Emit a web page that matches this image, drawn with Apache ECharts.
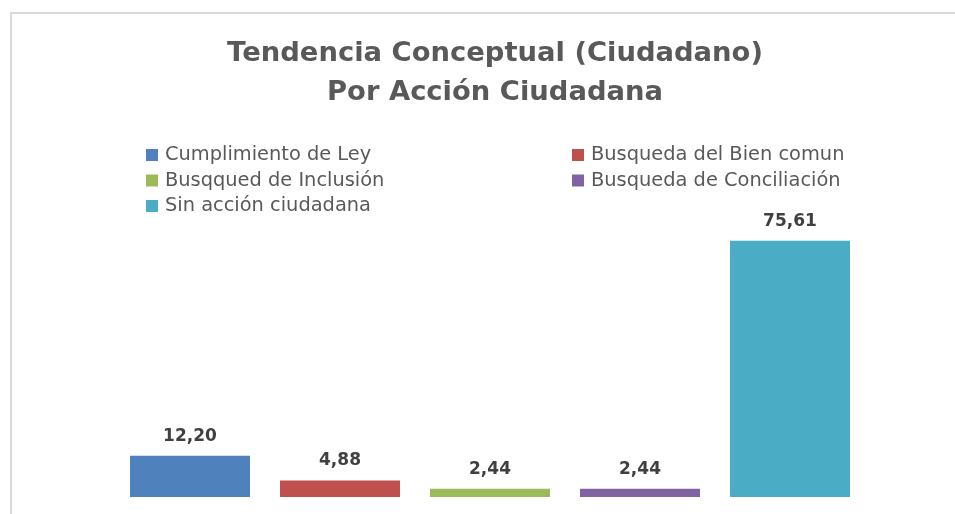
<!DOCTYPE html>
<html>
<head>
<meta charset="utf-8">
<script src="https://cdn.jsdelivr.net/npm/echarts@6/dist/echarts.min.js"></script>
<style>html,body{margin:0;padding:0;background:#fff;}#c{width:955px;height:514px;}</style>
</head>
<body>
<div id="c"></div>
<script>
const categories = ['Cumplimiento de Ley', 'Busqueda del Bien comun', 'Busqqued de Inclusión', 'Busqueda de Conciliación', 'Sin acción ciudadana'];
const values = [12.20, 4.88, 2.44, 2.44, 75.61];
const colors = ['#4F81BD', '#C0504D', '#9BBB59', '#8064A2', '#4BACC6'];
const leftLegend = ['Cumplimiento de Ley', 'Busqqued de Inclusión', 'Sin acción ciudadana'];
const rightLegend = ['Busqueda del Bien comun', 'Busqueda de Conciliación'];

const FONT = 'DejaVu Sans';
const chart = echarts.init(document.getElementById('c'));
const series = categories.map((name, i) => ({
  name: name,
  type: 'bar',
  barWidth: 120,
  barGap: '-100%',
  itemStyle: { color: colors[i] },
  data: categories.map((c, j) => j === i ? values[i] : null),
  label: {
    show: true,
    position: 'top',
    distance: 11,
    fontFamily: FONT,
    fontWeight: 'bold',
    fontSize: 17,
    color: '#404040',
    formatter: p => p.value.toFixed(2).replace('.', ',')
  }
}));

const legendCommon = {
  orient: 'vertical',
  top: 140,
  itemWidth: 12,
  itemHeight: 12,
  itemGap: 5.5,
  icon: 'rect',
  textStyle: { fontFamily: FONT, fontSize: 19.4, lineHeight: 20, color: '#595959', padding: [0, 0, 0, 2] }
};

chart.setOption({
  animation: false,
  title: {
    text: 'Tendencia Conceptual (Ciudadano)\nPor Acción Ciudadana',
    left: 490,
    textAlign: 'center',
    top: 29,
    textStyle: { fontFamily: FONT, fontWeight: 'bold', fontSize: 27.4, color: '#595959', lineHeight: 39 }
  },
  legend: [
    Object.assign({ left: 141, data: leftLegend }, legendCommon),
    Object.assign({ left: 567, data: rightLegend }, legendCommon)
  ],
  graphic: [{
    type: 'rect',
    shape: { x: 11, y: 13, width: 980, height: 540 },
    style: { fill: 'none', stroke: '#d9d9d9', lineWidth: 2 },
    silent: true
  }],
  grid: { left: 115, width: 750, top: 226, bottom: 17 },
  xAxis: {
    type: 'category',
    data: categories,
    show: false
  },
  yAxis: {
    type: 'value',
    min: 0,
    max: 80,
    show: false
  },
  series: series
});
</script>
</body>
</html>
